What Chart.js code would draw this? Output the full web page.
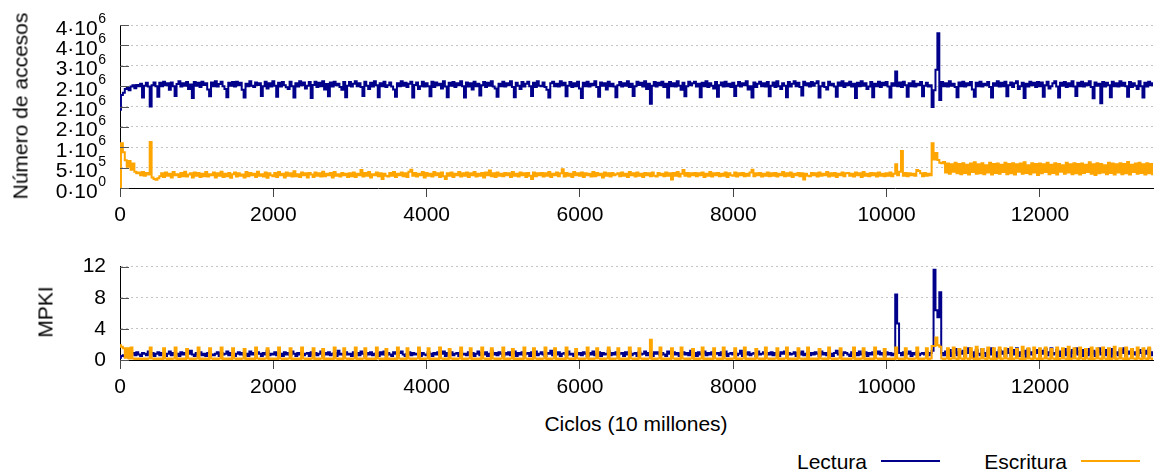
<!DOCTYPE html>
<html lang="es">
<head>
<meta charset="utf-8">
<title>Accesos y MPKI</title>
<script src="https://cdn.jsdelivr.net/npm/chart.js@4/dist/chart.umd.min.js"></script>
<style>
  html, body { margin: 0; padding: 0; background: #fff; }
  body { width: 1155px; height: 472px; position: relative; overflow: hidden;
         font-family: "Liberation Sans", Arial, sans-serif; font-size: 21px; color: #000; }
  canvas { position: absolute; left: 0; }
  #cAccesos { top: 0; }
  #cMPKI { top: 240px; }
  .txt { position: absolute; white-space: nowrap; line-height: 1; }
  .rot { transform: translate(-50%, -50%) rotate(-90deg); }
  .cen { transform: translate(-50%, -50%); }
  .ley { transform: translateY(-50%); }
  .muestra { position: absolute; height: 2px; width: 59px; }
</style>
</head>
<body>
<canvas id="cAccesos" width="1155" height="240"></canvas>
<canvas id="cMPKI" width="1155" height="170"></canvas>

<div class="txt rot" style="left:20px; top:106px;">Número de accesos</div>
<div class="txt rot" style="left:45px; top:312px;">MPKI</div>
<div class="txt cen" style="left:636px; top:423px;">Ciclos (10 millones)</div>

<div class="txt ley" style="right:288px; top:461px;">Lectura</div>
<div class="muestra" style="left:881px; top:460px; background:#00008b;"></div>
<div class="txt ley" style="right:88px; top:461px;">Escritura</div>
<div class="muestra" style="left:1081px; top:460px; background:#ffa500;"></div>

<script>
// Una muestra cada 25 unidades de ciclos (×10 millones)
const PASO = 25;
const CICLOS_MAX = 13475;

// Número de accesos, en decenas de miles
const ESCALA_ACCESOS = 1e4;
const accesosLectura = [
  192,228,234,243,246,240,249,252,245,253,250,256,222,251,258,249,200,252,259,250,
  224,258,250,261,252,257,241,259,250,226,255,262,249,257,251,260,243,254,221,260,
  251,258,248,261,253,257,242,225,259,250,262,249,255,261,250,243,223,258,251,260,
  249,261,252,258,241,222,256,250,262,251,248,259,253,257,226,250,261,244,257,249,
  262,251,224,258,249,260,252,247,243,261,250,222,257,249,262,252,259,244,251,260,
  221,253,261,248,258,250,262,242,255,225,259,249,261,252,256,248,241,260,223,251,
  260,249,256,262,250,257,248,226,261,251,243,258,249,262,252,223,257,250,261,248,
  252,259,249,242,224,257,250,262,251,258,248,256,261,222,253,259,243,250,261,249,
  257,250,225,261,248,259,252,256,244,262,249,223,258,251,260,248,257,252,262,250,
  222,259,249,257,242,261,250,256,227,252,260,248,258,251,262,249,244,224,256,250,
  261,249,257,252,262,248,223,258,251,243,260,249,256,261,250,226,258,248,262,251,
  250,259,248,241,222,257,261,250,256,249,262,252,258,225,251,260,248,257,250,261,
  244,221,258,250,261,249,256,252,262,248,224,259,251,257,242,261,250,256,249,223,
  252,260,249,257,251,262,248,256,226,250,261,253,258,249,262,243,256,207,251,260,
  249,258,252,261,248,256,222,260,250,257,249,262,251,241,258,225,250,261,252,257,
  261,249,256,223,258,250,262,248,257,251,244,260,224,252,259,249,261,250,256,248,
  258,226,251,260,249,257,252,262,242,250,222,259,248,256,261,250,257,249,260,225,
  251,259,248,262,250,243,257,251,223,260,249,256,262,250,258,248,227,261,252,257,
  249,260,251,257,262,222,250,258,248,242,261,252,256,249,224,259,251,262,248,257,
  252,261,249,256,221,258,250,262,251,257,243,249,260,223,256,250,261,248,258,252,
  260,249,222,257,251,286,250,259,248,261,252,224,257,250,262,249,256,252,260,225,
  251,258,249,252,199,240,290,380,216,260,250,257,249,262,251,256,248,223,259,250,
  261,249,257,252,260,242,224,258,250,261,249,256,252,260,248,222,257,251,262,249,
  258,250,261,225,252,259,248,257,262,243,250,258,221,256,249,261,252,258,248,260,
  250,259,224,252,261,244,250,257,262,249,222,258,251,260,248,257,250,262,249,226,
  258,250,261,249,257,252,262,248,220,259,251,256,208,260,249,258,252,223,261,250,
  257,249,262,251,258,250,224,260,248,257,251,243,262,250,222,258,249,261,252,257
];
const accesosEscritura = [
  2,110,88,68,52,66,45,60,40,36,38,31,39,30,37,33,113,26,22,20,
  24,29,36,27,38,30,35,26,39,31,34,27,37,29,40,28,33,36,26,38,
  30,37,27,35,29,39,28,34,31,38,26,36,30,40,27,35,29,37,25,34,
  38,28,36,30,33,26,39,29,37,31,35,27,40,30,34,28,38,25,36,31,
  29,37,27,39,31,35,26,38,30,36,28,41,29,34,27,38,31,36,26,37,
  33,27,38,30,36,28,40,29,35,31,37,26,39,30,34,28,37,31,35,27,
  36,29,38,27,35,31,44,28,37,30,39,26,34,31,38,29,36,22,35,30,
  28,37,30,39,27,35,31,38,29,36,27,40,45,30,37,28,35,31,39,26,
  37,30,35,28,39,31,36,27,38,29,22,36,30,38,27,35,31,39,28,36,
  30,38,27,36,31,39,28,35,30,37,26,38,31,43,29,36,27,38,30,35,
  29,37,31,36,27,39,30,35,28,38,31,36,27,37,30,22,38,29,36,31,
  37,28,36,30,39,27,35,31,38,29,36,46,28,37,30,35,27,39,31,36,
  30,38,27,36,31,35,28,39,29,37,31,35,26,38,30,36,28,37,31,34,
  36,29,38,30,35,27,39,31,36,28,38,30,35,27,37,31,36,29,38,30,
  28,37,31,35,29,38,30,36,21,37,30,39,28,35,44,30,37,28,36,31,
  37,29,36,31,38,27,35,30,39,28,36,31,37,29,35,30,38,27,36,31,
  30,38,28,36,31,37,29,35,30,38,45,29,36,31,37,28,35,30,38,29,
  36,30,37,28,35,31,39,29,36,30,38,27,35,31,37,29,36,21,35,30,
  29,37,31,36,28,38,30,35,31,39,28,36,30,37,27,35,31,38,29,36,
  37,30,35,28,38,31,36,27,39,30,35,29,37,31,36,28,38,30,35,29,
  36,30,38,29,35,58,31,40,91,30,37,29,36,31,35,30,44,42,36,29,
  37,30,35,31,110,70,86,69,62,61,64,38,60,35,58,40,62,36,59,34,
  61,37,57,33,60,39,63,35,58,36,61,34,56,38,62,33,59,37,60,35,
  57,39,62,34,59,36,61,33,58,40,60,35,63,37,56,34,61,38,59,32,
  60,36,58,39,62,34,57,37,61,33,59,40,56,35,62,38,58,34,61,36,
  59,33,60,37,57,39,63,35,58,32,61,36,59,38,56,34,62,37,60,33,
  58,38,61,34,59,36,64,33,57,39,60,35,62,37,58,33,61,36,59,34
];

// Fallos por cada mil instrucciones
const mpkiLectura = [
  .3,.5,.6,.4,.7,.5,.8,.9,.6,1,.7,.5,.9,.8,.6,1.1,.7,.9,.5,.8,
  1,.6,.9,.7,.5,.8,1.1,.6,.9,.7,.8,.5,1,.7,.9,.6,.8,1.2,.7,.5,
  .9,.7,1,.6,.8,.5,.9,1.1,.7,.6,.8,1,.5,.9,.7,.8,1.1,.6,.9,.7,
  .5,.8,1,.7,.9,.6,.8,.5,1.1,.7,.9,.6,1,.8,.5,.9,.7,1.2,.6,.8,
  .7,1,.6,.9,.8,.5,1,.7,.9,.6,1.1,.8,.5,.9,.7,1,.6,.8,.9,.5,
  1,.7,.9,.6,.8,1.1,.5,.9,.7,1,.6,.8,.9,.5,1.2,.7,.8,.6,1,.7,
  .8,.5,1,.7,.9,.6,1.1,.8,.5,.9,.7,1,.6,.8,.9,.5,1,.7,1.1,.6,
  .9,.7,.5,1,.8,.6,.9,1.1,.7,.5,.8,1,.6,.9,.7,.8,1.2,.5,.9,.7,
  .6,1,.8,.5,.9,.7,1,.6,.8,1.1,.5,.9,.7,1,.6,.8,.9,.5,1.1,.7,
  .8,.6,1,.7,.9,.5,.8,1.1,.6,.9,.7,1,.5,.8,1.2,.7,.9,.6,1,.8,
  .5,.9,.7,1,.6,.8,1.1,.5,.9,.7,1,.6,.8,.9,.5,1,.7,1.1,.6,.8,
  1,.7,.5,.9,.8,1.2,.6,.9,.7,1,.5,.8,.9,.6,1.1,.7,.8,.5,1,.7,
  .9,.6,1,.8,.5,.9,.7,1.1,.6,.8,1,.5,.9,.7,.8,1.2,.6,.9,.7,1,
  .6,.8,.9,.5,1,.7,1.1,.6,.8,.9,.5,1,.7,.8,1.1,.6,.9,.7,.5,1,
  .8,1,.6,.9,.7,.5,1.1,.8,.6,1,.7,.9,.5,.8,1,.7,.9,.6,1.2,.7,
  .9,.5,1,.7,.8,1.1,.6,.9,.7,1,.5,.8,.9,.6,1,.7,1.1,.5,.8,.9,
  .7,1,.6,.8,1.2,.5,.9,.7,1,.6,.8,.9,.5,1.1,.7,.8,1,.6,.9,.7,
  1,.6,.9,.7,.5,1,.8,1.1,.6,.9,.7,.8,1,.5,.9,.7,1.1,.6,.8,1,
  .6,.9,.7,1,.8,.5,1.1,.7,.9,.6,1,.8,.5,.9,1.2,.7,.8,.6,1,.9,
  .7,.5,1,.8,.9,.6,1.1,.7,.8,1,.5,.9,.7,1,.6,.8,1.1,.7,.9,.5,
  1,.7,.9,.6,.8,8.4,4.7,.9,.6,1,.7,.8,1.1,.5,.9,.7,1,.6,.8,.9,
  .7,1,.6,.9,1.2,11.6,6.4,5.5,8.7,.9,.6,1.1,.7,1.3,.5,.9,1.4,.6,1,.8,
  1.2,.5,.9,1.5,.7,1,.4,1.3,.8,.6,1.4,.9,.5,1.2,.7,1.5,.6,1,.4,1.3,
  .8,1.1,.5,1.4,.9,.6,1.3,.7,1.5,.5,1,.8,1.2,.4,1.4,.7,1,.6,1.3,.9,
  .5,1.2,.8,1.4,.6,1,1.5,.7,.9,1.3,.5,1.1,.8,1.4,.6,1,.4,1.3,.9,1.5,
  .7,1.1,.5,1.3,.9,.6,1.4,.8,1.2,.5,1,1.5,.7,.9,1.3,.6,1.1,.4,1.4,.8,
  1,.6,1.3,.9,1.5,.5,1.1,.8,1.4,.7,1,.6,1.3,.9,.5,1.2,.8,1.4,.6,1
];
const mpkiEscritura = [
  1.9,1.7,1.5,.3,1.5,.2,1.6,.2,.1,.2,.1,.2,.1,.2,.1,.2,1.6,.2,.1,.2,
  .1,.2,.1,1.5,.2,.1,.2,.1,.2,1.6,.1,.2,.1,.2,.1,1.4,.2,.1,.2,.1,
  .2,1.6,.1,.2,.1,.2,.1,1.5,.2,.1,.2,.1,.2,1.6,.1,.2,.1,.2,.1,1.5,
  .2,.1,.2,.1,.2,1.4,.1,.2,.1,.2,.1,1.6,.2,.1,.2,.1,.2,1.5,.1,.2,
  .1,.2,.1,1.6,.2,.1,.2,.1,.2,1.5,.1,.2,.1,.2,.1,1.6,.2,.1,.2,.1,
  .2,1.5,.1,.2,.1,.2,1.4,.1,.2,.1,.2,.1,1.6,.2,.1,.2,.1,1.5,.2,.1,
  .2,.1,.2,1.6,.1,.2,.1,.2,1.5,.1,.2,.1,.2,.1,1.6,.2,.1,.2,.1,1.4,
  .1,.2,.1,.2,.1,1.6,.2,.1,.2,.1,1.5,.2,.1,.2,.1,.2,1.6,.1,.2,.1,
  .2,1.5,.1,.2,.1,.2,.1,1.6,.2,.1,.2,.1,1.4,.2,.1,.2,.1,.2,1.6,.1,
  .2,.1,.2,1.5,.1,.2,.1,.2,.1,1.6,.2,.1,.2,.1,1.5,.2,.1,.2,.1,.2,
  1.6,.1,.2,.1,.2,1.4,.1,.2,.1,.2,.1,1.6,.2,.1,.2,.1,1.5,.2,.1,.2,
  .1,.2,1.6,.1,.2,.1,.2,1.5,.1,.2,.1,.2,.1,1.6,.2,.1,.2,.1,1.4,.2,
  .1,.2,.1,.2,1.6,.1,.2,.1,.2,1.5,.2,.1,.2,.1,.2,1.6,.1,.2,.1,.2,
  1.5,.1,.2,.1,.2,.1,1.6,.2,.1,.2,.1,1.5,.2,.1,.2,.1,.2,2.6,.1,.2,
  .1,.2,1.6,.1,.2,.1,.2,.1,1.5,.2,.1,.2,.1,1.6,.2,.1,.2,.1,.2,1.4,
  .1,.2,.1,.2,1.6,.1,.2,.1,.2,.1,1.5,.2,.1,.2,.1,1.6,.2,.1,.2,.1,
  .2,1.5,.1,.2,.1,.2,1.6,.1,.2,.1,.2,.1,1.4,.2,.1,.2,.1,1.6,.2,.1,
  .2,.1,.2,1.5,.1,.2,.1,.2,1.6,.1,.2,.1,.2,.1,1.5,.2,.1,.2,.1,1.6,
  .1,.2,.1,.2,.1,1.4,.2,.1,.2,.1,1.6,.2,.1,.2,.1,.2,1.5,.1,.2,.1,
  .2,.1,.2,1.6,.1,.2,.1,.2,1.5,.1,.2,.1,.2,.1,1.6,.2,.1,.2,.1,1.4,
  .1,.2,.1,.2,.1,1.6,.2,.1,.2,.1,1.5,.2,.1,.2,.1,.2,1.6,.1,.2,.1,
  .2,1.5,.1,.2,1.8,1.8,2.9,1.9,1.7,.2,.1,.2,1.5,.1,.2,1.6,.2,.1,1.4,.2,
  .1,1.6,.2,.1,1.5,.2,.1,1.7,.1,.2,1.4,.2,.1,1.6,.2,.1,1.5,.1,.2,1.6,
  .1,.2,1.5,.2,.1,1.6,.1,.2,1.4,.2,.1,1.7,.1,.2,1.5,.2,.1,1.6,.2,.1,
  1.5,.1,.2,1.6,.2,.1,1.4,.2,.1,1.6,.1,.2,1.5,.2,.1,1.7,.1,.2,1.5,.2,
  .1,1.6,.2,.1,1.4,.2,.1,1.6,.1,.2,1.5,.2,.1,1.6,.2,.1,1.5,.1,.2,1.7,
  .1,.2,1.5,.2,.1,1.6,.1,.2,1.4,.2,.1,1.6,.2,.1,1.5,.2,.1,1.6,.2,.1
];

// Marcas de los ejes
const ticksCiclos = [0, 2000, 4000, 6000, 8000, 10000, 12000];
const ticksAccesos = [0, 5e5, 1e6, 1.5e6, 2e6, 2.5e6, 3e6, 3.5e6, 4e6];
const etiquetasAccesos = ["0·10^0", "5·10^5", "1·10^6", "2·10^6", "2·10^6", "2·10^6", "3·10^6", "4·10^6", "4·10^6"];
const ticksMPKI = [0, 4, 8, 12];

const AZUL = '#00008b';
const NARANJA = '#ffa500';
const FUENTE = '"Liberation Sans", Arial, sans-serif';

Chart.defaults.font.family = FUENTE;
Chart.defaults.font.size = 21;
Chart.defaults.color = '#000';

const puntos = (serie, escala) => serie.map((v, i) => ({ x: i * PASO, y: v * escala }));

// Trazo escalonado: cada muestra ocupa su intervalo de ciclos
const serie = (etiqueta, datos, color, orden) => ({
  label: etiqueta,
  data: datos,
  borderColor: color,
  backgroundColor: color,
  borderWidth: 2,
  pointRadius: 0,
  stepped: 'middle',
  fill: false,
  order: orden
});

// Marcas cortas hacia dentro sobre el eje vertical
const marcasInternas = {
  id: 'marcasInternas',
  afterDraw(chart) {
    const { ctx, chartArea } = chart;
    const y = chart.scales.y;
    ctx.save();
    ctx.strokeStyle = '#555';
    ctx.lineWidth = 1;
    y.ticks.forEach(t => {
      const py = Math.round(y.getPixelForValue(t.value)) + 0.5;
      ctx.beginPath();
      ctx.moveTo(chartArea.left, py);
      ctx.lineTo(chartArea.left + 9, py);
      ctx.stroke();
    });
    ctx.restore();
  }
};

// Etiquetas del eje de accesos con el exponente elevado
const etiquetasPotencia = {
  id: 'etiquetasPotencia',
  afterDraw(chart) {
    const { ctx, chartArea } = chart;
    const y = chart.scales.y;
    const derecha = chartArea.left - 14;
    ctx.save();
    ctx.fillStyle = '#000';
    ctx.textAlign = 'right';
    ctx.textBaseline = 'alphabetic';
    ticksAccesos.forEach((v, k) => {
      const [base, exp] = etiquetasAccesos[k].split('^');
      const py = y.getPixelForValue(v);
      ctx.font = '14px ' + FUENTE;
      const ancho = ctx.measureText(exp).width;
      ctx.fillText(exp, derecha, py - 2);
      ctx.font = '21px ' + FUENTE;
      ctx.fillText(base, derecha - ancho - 0.5, py + 9.5);
    });
    ctx.restore();
  }
};

const ejeX = (alto) => ({
  type: 'linear',
  min: 0,
  max: CICLOS_MAX,
  afterFit: s => { s.height = alto; },
  afterBuildTicks: s => { s.ticks = ticksCiclos.map(v => ({ value: v })); },
  ticks: {
    autoSkip: false,
    maxRotation: 0,
    padding: 6,
    color: '#000',
    font: { size: 21 },
    callback: v => String(v)
  },
  grid: { drawOnChartArea: false, drawTicks: true, tickLength: 9, color: '#444', lineWidth: 1 },
  border: { display: true, color: '#000', width: 1 }
});

const rejillaY = {
  drawTicks: false,
  lineWidth: 1,
  color: ctx => (ctx.tick && ctx.tick.value === 0) ? 'rgba(0,0,0,0)' : '#c4c4c4'
};

new Chart(document.getElementById('cAccesos'), {
  type: 'line',
  data: {
    datasets: [
      serie('Lectura', puntos(accesosLectura, ESCALA_ACCESOS), AZUL, 1),
      serie('Escritura', puntos(accesosEscritura, ESCALA_ACCESOS), NARANJA, 0)
    ]
  },
  options: {
    responsive: false,
    animation: false,
    devicePixelRatio: 1,
    parsing: false,
    normalized: true,
    layout: { padding: { top: 25, right: 2, bottom: 0, left: 0 } },
    plugins: { legend: { display: false }, tooltip: { enabled: false } },
    scales: {
      x: ejeX(52),
      y: {
        type: 'linear',
        min: 0,
        max: 4e6,
        afterFit: s => { s.width = 120; },
        afterBuildTicks: s => { s.ticks = ticksAccesos.map(v => ({ value: v })); },
        ticks: { display: false },
        grid: rejillaY,
        border: { display: true, color: '#000', width: 1, dash: [2, 3] }
      }
    }
  },
  plugins: [marcasInternas, etiquetasPotencia]
});

new Chart(document.getElementById('cMPKI'), {
  type: 'line',
  data: {
    datasets: [
      serie('Lectura', puntos(mpkiLectura, 1), AZUL, 1),
      serie('Escritura', puntos(mpkiEscritura, 1), NARANJA, 0)
    ]
  },
  options: {
    responsive: false,
    animation: false,
    devicePixelRatio: 1,
    parsing: false,
    normalized: true,
    layout: { padding: { top: 25, right: 2, bottom: 0, left: 0 } },
    plugins: { legend: { display: false }, tooltip: { enabled: false } },
    scales: {
      x: ejeX(50),
      y: {
        type: 'linear',
        min: 0,
        max: 12,
        afterFit: s => { s.width = 120; },
        afterBuildTicks: s => { s.ticks = ticksMPKI.map(v => ({ value: v })); },
        ticks: { padding: 14, color: '#000', font: { size: 21 } },
        grid: rejillaY,
        border: { display: true, color: '#000', width: 1, dash: [2, 3] }
      }
    }
  },
  plugins: [marcasInternas]
});
</script>
</body>
</html>
